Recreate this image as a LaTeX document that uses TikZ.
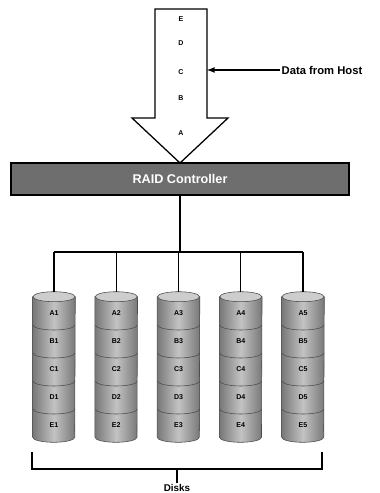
\documentclass[tikz,border=0pt]{standalone}
\usepackage{fontspec}
\setsansfont{Liberation Sans}
\definecolor{ctrlgray}{RGB}{110,110,110}
\definecolor{diskedge}{RGB}{120,120,120}
\definecolor{diskmid}{RGB}{195,195,195}
\definecolor{disktop}{RGB}{205,205,205}
\begin{document}
\begin{tikzpicture}[
        x                       = 0.025cm,
        y                       = -0.025cm,
        font                    = \sffamily\bfseries,
        bus/.style              = {draw, line width=0.9pt},
        bigarrow/.style         = {draw, line width=0.9pt, fill=white},
        letter/.style           = {inner sep=1pt, font=\sffamily\bfseries\tiny},
        controller/.style       = {draw, line width=0.9pt, fill=ctrlgray, text=white,
                                   minimum width=8.45cm, minimum height=0.8cm, font=\sffamily\bfseries\small},
        disk/.style             = {minimum width=1.05cm, minimum height=3.5cm, inner sep=0pt},
        diskbody/.style         = {draw=black!70, left color=diskedge, right color=diskedge, middle color=diskmid},
        disklabel/.style        = {inner sep=1pt, font=\sffamily\bfseries\tiny},
    ]
    \useasboundingbox (0,0) rectangle (380,493);

    % data coming in from the host
    \draw[bigarrow] (155,9) -- (207,9) -- (207,118) -- (228,118) -- (180,163)
        -- (132,118) -- (155,118) -- cycle;
    \foreach \l/\y in {E/19, D/43, C/72, B/98, A/133}
        \node[letter] (in\l) at (181,\y) {\l};
    \coordinate (shaft) at (207,70);
    \node[anchor=west, inner sep=1pt, font=\sffamily\bfseries\footnotesize] (host) at (280,70) {Data from Host};
    \draw[-latex, line width=0.9pt] (host) -- (shaft);

    % controller
    \node[controller] (ctrl) at (180,179) {RAID Controller};

    % the disks, striped A..E
    \foreach \i/\x in {1/54, 2/116.25, 3/178.5, 4/240.75, 5/303} {
        \node[disk] (d\i) at (\x,367) {};
        \shade[diskbody] (d\i.north west) -- (d\i.south west) arc (180:360:0.525cm and 0.125cm)
            -- (d\i.north east) -- cycle;
        \draw[draw=black!70, fill=disktop] (d\i.north) ellipse (0.525cm and 0.125cm);
        \foreach \k in {1,...,4}
            \draw[black!70] ({\x-21},{297+28*\k}) arc (180:360:0.525cm and 0.125cm);
        \foreach \r [count=\k] in {A,B,C,D,E}
            \node[disklabel] (\r\i) at (\x,{285+28*\k}) {\r\i};
    }

    % wiring
    \coordinate (bus) at (180,252);
    \draw[bus] (ctrl.south) -- (bus);
    \draw[bus] (d1.north |- bus) -- (d5.north |- bus);
    \foreach \i in {1,...,5}
        \draw[bus] (d\i.north |- bus) -- ([yshift=0.125cm]d\i.north);

    % bracket
    \node[inner sep=1pt, font=\sffamily\bfseries\scriptsize] (disks) at (177,488) {Disks};
    \coordinate (brace) at (177,469);
    \draw[line width=0.9pt] (32,452) -- (32,469) -- (322,469) -- (322,452);
    \draw[line width=0.9pt] (brace) -- (disks.north);
\end{tikzpicture}
\end{document}
